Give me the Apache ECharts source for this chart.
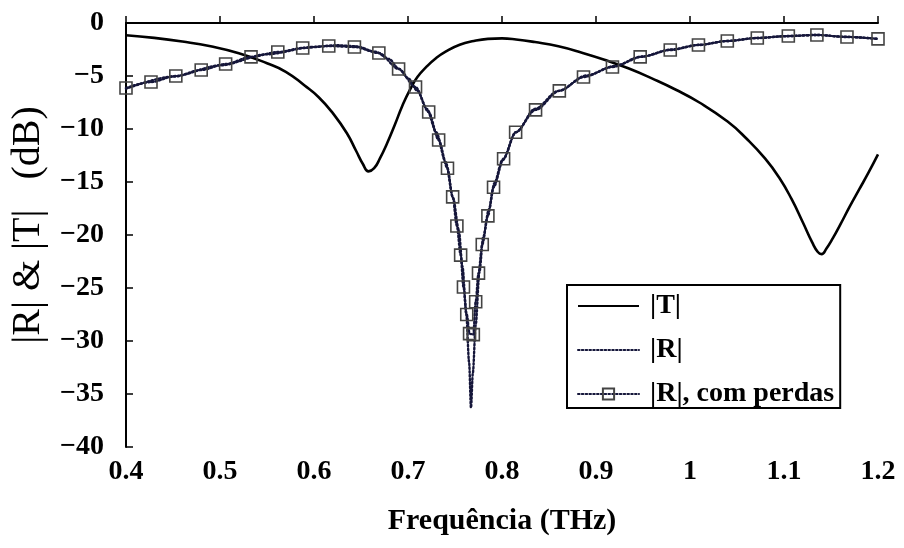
<!DOCTYPE html>
<html>
<head>
<meta charset="utf-8">
<script src="https://cdn.jsdelivr.net/npm/echarts@6/dist/echarts.min.js"></script>
<style>
html,body{margin:0;padding:0;background:#fff;}
#chart{width:904px;height:548px;}
</style>
</head>
<body>
<div id="chart"></div>
<script>
// ---- data ----
const seriesNames = ['|T|', '|R|', '|R|, com perdas'];

const tFreq = [0.40,0.43,0.46,0.49,0.52,0.55,0.57,0.59,0.605,0.62,0.635,0.645,0.652,0.658,0.664,0.67,0.678,0.686,0.694,0.702,0.71,0.72,0.73,0.74,0.755,0.77,0.785,0.80,0.815,0.835,0.86,0.885,0.91,0.935,0.96,0.985,1.01,1.04,1.06,1.08,1.095,1.108,1.12,1.13,1.136,1.14,1.145,1.152,1.16,1.17,1.18,1.19,1.2];
const tVals = [-1.15,-1.4,-1.75,-2.2,-2.85,-3.8,-4.6,-5.9,-7.0,-8.5,-10.4,-12.1,-13.3,-14.0,-13.7,-12.8,-11.3,-9.6,-7.8,-6.3,-5.1,-4.1,-3.3,-2.7,-2.05,-1.7,-1.5,-1.45,-1.55,-1.8,-2.2,-2.8,-3.5,-4.3,-5.25,-6.3,-7.5,-9.3,-10.9,-12.8,-14.6,-16.6,-18.8,-20.7,-21.6,-21.8,-21.3,-20.3,-19.0,-17.3,-15.7,-14.1,-12.4];

const rFreq = [0.40,0.45,0.50,0.55,0.60,0.625,0.645,0.665,0.68,0.69,0.70,0.71,0.72,0.73,0.74,0.748,0.754,0.758,0.762,0.765,0.767,0.769,0.772,0.776,0.78,0.786,0.792,0.80,0.815,0.835,0.86,0.89,0.92,0.95,0.98,1.01,1.04,1.07,1.10,1.135,1.165,1.2];
const rVals = [-6.2,-5.05,-4.0,-2.95,-2.25,-2.1,-2.2,-2.7,-3.4,-4.3,-5.2,-6.4,-8.1,-10.3,-13.1,-16.5,-19.5,-23.0,-27.5,-32.0,-36.3,-33.0,-28.5,-23.5,-20.2,-17.6,-15.1,-13.0,-10.3,-8.1,-6.4,-4.95,-4.05,-3.15,-2.5,-2.05,-1.7,-1.42,-1.25,-1.13,-1.3,-1.5];

const rlFreq = [0.4,0.4266,0.453,0.48,0.506,0.533,0.5615,0.588,0.6157,0.643,0.669,0.69,0.708,0.722,0.7326,0.742,0.7475,0.752,0.756,0.759,0.7625,0.7655,0.7695,0.772,0.775,0.779,0.785,0.791,0.8017,0.8145,0.8357,0.861,0.8867,0.9175,0.947,0.979,1.009,1.0397,1.0716,1.1046,1.135,1.167,1.2];
const rlVals = [-6.13,-5.57,-5.0,-4.43,-3.87,-3.2,-2.74,-2.36,-2.17,-2.26,-2.83,-4.34,-6.04,-8.4,-11.04,-13.7,-16.4,-19.15,-21.9,-24.9,-27.5,-29.3,-29.4,-26.3,-23.6,-20.9,-18.2,-15.5,-12.8,-10.3,-8.2,-6.4,-5.1,-4.15,-3.2,-2.55,-2.08,-1.7,-1.42,-1.23,-1.13,-1.32,-1.5];

const xTicks = {min: 0.4, max: 1.2, step: 0.1};
const yTicks = {min: -40, max: 0, step: 5};

// ---- chart ----
const zip = (a, b) => a.map((x, i) => [x, b[i]]);
const FONT = '"Liberation Serif", "Times New Roman", serif';
const DOT = '#15163a';

const chart = echarts.init(document.getElementById('chart'), null, {renderer: 'canvas'});
chart.setOption({
  animation: false,
  backgroundColor: '#fff',
  textStyle: {fontFamily: FONT, color: '#000'},
  grid: {left: 125, right: 26, top: 23, bottom: 101, containLabel: false},
  legend: {
    orient: 'vertical',
    left: 567, top: 285,
    padding: [7, 6, 0, 10],
    itemWidth: 61, itemHeight: 14, itemGap: 16,
    borderColor: '#000', borderWidth: 2,
    backgroundColor: '#fff',
    textStyle: {fontFamily: FONT, fontSize: 28, fontWeight: 'bold', color: '#000', padding: [0, 0, 0, 6]},
    data: [
      {name: seriesNames[0], itemStyle: {opacity: 0}},
      {name: seriesNames[1], itemStyle: {opacity: 0}},
      {name: seriesNames[2]}
    ]
  },
  xAxis: {
    type: 'value',
    min: xTicks.min, max: xTicks.max, interval: xTicks.step,
    name: 'Frequência (THz)',
    nameLocation: 'middle', nameGap: 59,
    nameTextStyle: {fontFamily: FONT, fontSize: 30, fontWeight: 'bold', color: '#000'},
    axisLine: {lineStyle: {color: '#000', width: 2}},
    axisTick: {inside: true, length: 7, lineStyle: {color: '#000', width: 1.5}},
    axisLabel: {fontFamily: FONT, fontSize: 28, fontWeight: 'bold', color: '#000', margin: 11,
      formatter: v => String(parseFloat(v.toFixed(2)))},
    splitLine: {show: false}
  },
  yAxis: {
    type: 'value',
    min: yTicks.min, max: yTicks.max, interval: yTicks.step,
    name: '|R| & |T|   (dB)',
    nameLocation: 'middle', nameGap: 78, nameRotate: 90,
    nameTextStyle: {fontFamily: FONT, fontSize: 40, color: '#000', padding: [0, 0, 0, 20]},
    axisLine: {show: true, lineStyle: {color: '#000', width: 2}},
    axisTick: {show: true, inside: true, length: 7, lineStyle: {color: '#000', width: 1.5}},
    axisLabel: {fontFamily: FONT, fontSize: 28, fontWeight: 'bold', color: '#000', margin: 22,
      formatter: v => v < 0 ? '\u2212' + Math.abs(v) : String(v)},
    splitLine: {show: false}
  },
  series: [
    {
      name: seriesNames[0], type: 'line', data: zip(tFreq, tVals),
      smooth: 0.5, symbol: 'none',
      lineStyle: {color: '#000', width: 2.6}, itemStyle: {color: '#000'}, z: 3
    },
    {
      name: seriesNames[1], type: 'line', data: zip(rFreq, rVals),
      smooth: 0.3, smoothMonotone: 'x', symbol: 'none',
      lineStyle: {color: DOT, width: 2.4, type: [1.6, 2.2], cap: 'round'}, itemStyle: {color: DOT}, z: 2
    },
    {
      name: seriesNames[2], type: 'line', data: zip(rlFreq, rlVals),
      smooth: 0.3, smoothMonotone: 'x',
      symbol: 'rect', symbolSize: 12, showAllSymbol: true,
      lineStyle: {color: DOT, width: 2.4, type: [1.6, 2.2], cap: 'round'},
      itemStyle: {color: 'rgba(255,255,255,0)', borderColor: '#444', borderWidth: 1.6}, z: 4
    }
  ]
});
</script>
</body>
</html>
